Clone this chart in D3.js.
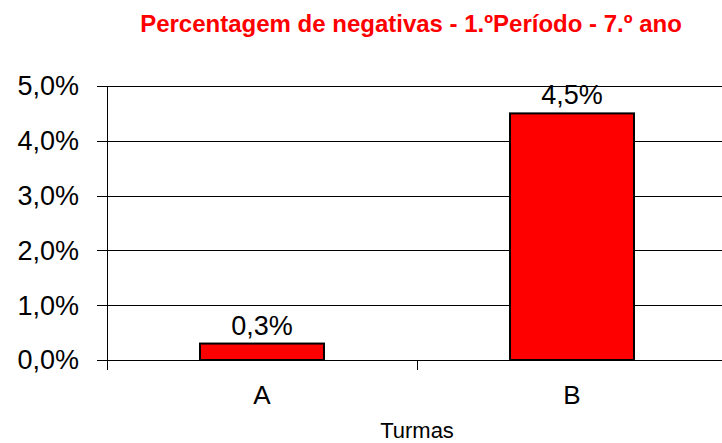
<!DOCTYPE html>
<html>
<head>
<meta charset="utf-8">
<script src="https://cdn.jsdelivr.net/npm/d3@7"></script>
<style>
  body { margin: 0; background: #fff; }
  text { font-family: "Liberation Sans", Arial, sans-serif; }
</style>
</head>
<body>
<svg id="chart" width="722" height="443"></svg>
<script>
const title = 'Percentagem de negativas - 1.ºPeríodo - 7.º ano';
const turmas = ['A', 'B'];
const negativas = [0.3, 4.5];
const yTicks = [0, 1, 2, 3, 4, 5];

const svg = d3.select('#chart');
const fmt = v => d3.format('.1f')(v).replace('.', ',') + '%';

const x = d3.scaleBand()
  .domain(turmas)
  .range([107, 727])
  .paddingInner(0.6)
  .paddingOuter(0.3);

const y = d3.scaleLinear()
  .domain([0, 5])
  .range([360, 86]);

// title
svg.append('text')
  .attr('x', 411)
  .attr('y', 32)
  .attr('text-anchor', 'middle')
  .attr('font-size', 24)
  .attr('font-weight', 'bold')
  .attr('fill', '#ff0000')
  .text(title);

// gridlines + y ticks
svg.append('g')
  .selectAll('line')
  .data(yTicks)
  .join('line')
  .attr('x1', 97)
  .attr('x2', 727)
  .attr('y1', d => Math.round(y(d)) + 0.5)
  .attr('y2', d => Math.round(y(d)) + 0.5)
  .attr('stroke', '#000')
  .attr('stroke-width', 1);

svg.append('g')
  .selectAll('text')
  .data(yTicks)
  .join('text')
  .attr('x', 79)
  .attr('y', d => y(d))
  .attr('dy', '0.35em')
  .attr('text-anchor', 'end')
  .attr('font-size', 27)
  .text(fmt);

// y axis line
svg.append('line')
  .attr('x1', 107.5).attr('x2', 107.5)
  .attr('y1', y(5)).attr('y2', 370)
  .attr('stroke', '#000');

// x ticks between categories
const step = x.step();
const xTickPos = [107, 107 + step, 107 + 2 * step];
svg.append('g')
  .selectAll('line')
  .data(xTickPos)
  .join('line')
  .attr('x1', d => Math.round(d) + 0.5)
  .attr('x2', d => Math.round(d) + 0.5)
  .attr('y1', y(0))
  .attr('y2', 370)
  .attr('stroke', '#000');

// bars
svg.append('g')
  .selectAll('rect')
  .data(negativas)
  .join('rect')
  .attr('x', (d, i) => x(turmas[i]))
  .attr('y', d => y(d))
  .attr('width', x.bandwidth())
  .attr('height', d => y(0) - y(d))
  .attr('fill', '#ff0000')
  .attr('stroke', '#000')
  .attr('stroke-width', 2);

// value labels
svg.append('g')
  .selectAll('text')
  .data(negativas)
  .join('text')
  .attr('x', (d, i) => x(turmas[i]) + x.bandwidth() / 2)
  .attr('y', d => y(d) - 9)
  .attr('text-anchor', 'middle')
  .attr('font-size', 27)
  .text(fmt);

// category labels
svg.append('g')
  .selectAll('text')
  .data(turmas)
  .join('text')
  .attr('x', d => x(d) + x.bandwidth() / 2)
  .attr('y', 404)
  .attr('text-anchor', 'middle')
  .attr('font-size', 26)
  .text(d => d);

// axis title
svg.append('text')
  .attr('x', 417)
  .attr('y', 438)
  .attr('text-anchor', 'middle')
  .attr('font-size', 22)
  .text('Turmas');
</script>
</body>
</html>
